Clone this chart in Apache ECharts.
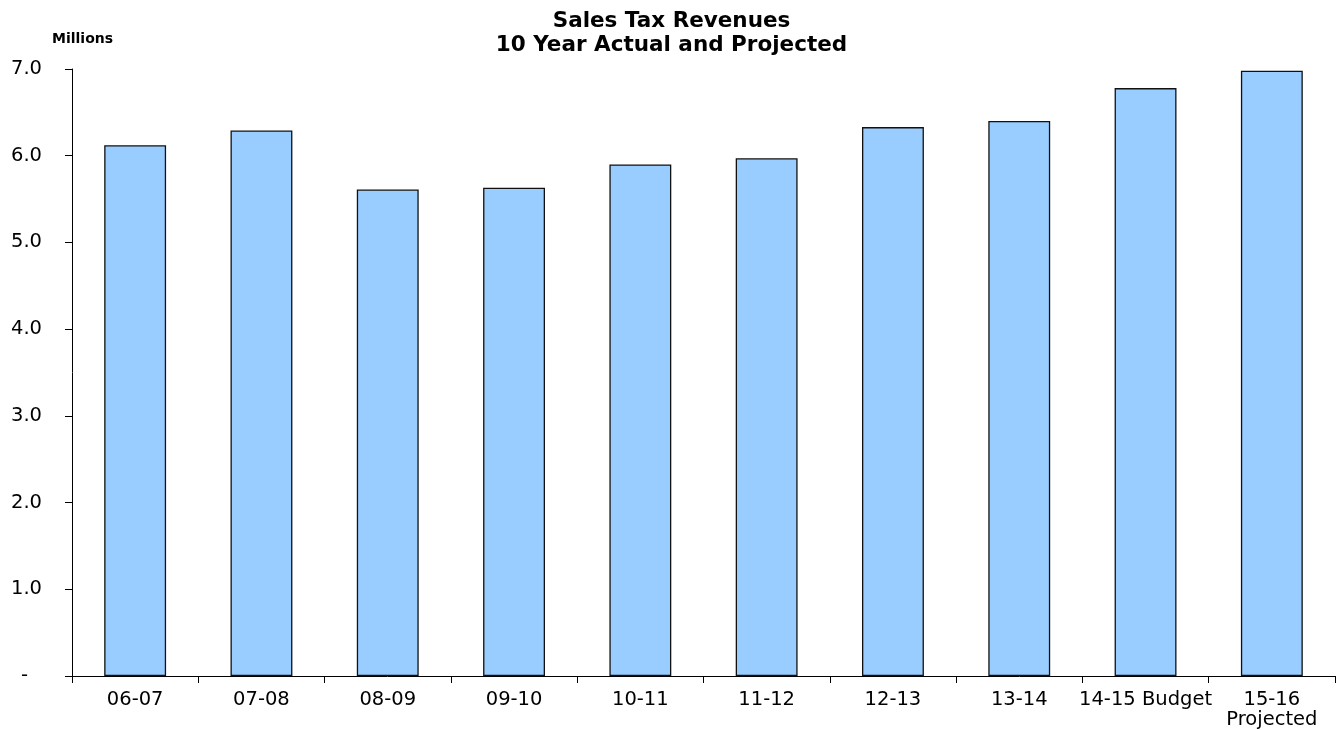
<!DOCTYPE html>
<html>
<head>
<meta charset="utf-8">
<style>
  html, body { margin: 0; padding: 0; background: #fff; }
  #chart { width: 1343px; height: 730px; }
</style>
<script src="https://cdn.jsdelivr.net/npm/echarts@6/dist/echarts.min.js"></script>
</head>
<body>
<div id="chart"></div>
<script>
// Fiscal years shown on the category axis
const categories = ['06-07', '07-08', '08-09', '09-10', '10-11', '11-12', '12-13', '13-14', '14-15 Budget', '15-16\nProjected'];
// Sales tax revenue per year, in millions
const revenues = [6.12, 6.29, 5.61, 5.63, 5.90, 5.97, 6.33, 6.40, 6.78, 6.98];
// Value axis ticks
const yTicks = [0, 1, 2, 3, 4, 5, 6, 7];

const FONT = '"DejaVu Sans", Verdana, sans-serif';
const LABEL_SIZE = 19.5;

const chart = echarts.init(document.getElementById('chart'), null, { renderer: 'canvas' });

chart.setOption({
  backgroundColor: '#ffffff',
  animation: false,
  title: [{
    text: 'Sales Tax Revenues\n10 Year Actual and Projected',
    left: 'center',
    top: 5,
    textStyle: { fontFamily: FONT, fontWeight: 'bold', fontSize: 21.5, lineHeight: 23.5, color: '#000' }
  }, {
    text: 'Millions',
    left: 47,
    top: 27,
    textStyle: { fontFamily: FONT, fontWeight: 'bold', fontSize: 14, color: '#000' }
  }],
  grid: { left: 72, right: 8, top: 69, bottom: 54, containLabel: false, outerBoundsMode: 'none' },
  xAxis: {
    type: 'category',
    data: categories,
    boundaryGap: true,
    axisLine: { lineStyle: { color: '#000', width: 1 } },
    axisTick: { show: true, length: 7, lineStyle: { color: '#000' } },
    axisLabel: { fontFamily: FONT, fontSize: LABEL_SIZE, color: '#000', margin: 14, lineHeight: 20, interval: 0 },
    splitLine: { show: false }
  },
  yAxis: {
    type: 'value',
    min: yTicks[0],
    max: yTicks[yTicks.length - 1],
    interval: 1,
    axisLine: { show: true, lineStyle: { color: '#000', width: 1 } },
    axisTick: { show: true, length: 7, lineStyle: { color: '#000' } },
    axisLabel: {
      fontFamily: FONT, fontSize: LABEL_SIZE, color: '#000', margin: 30,
      formatter: v => (v === 0 ? '{d|-}' : v.toFixed(1)),
      rich: { d: { fontFamily: FONT, fontSize: LABEL_SIZE, color: '#000', padding: [0, 14, 0, 0] } }
    },
    splitLine: { show: false }
  },
  series: [{
    type: 'bar',
    data: revenues,
    barWidth: '49%',
    itemStyle: { color: '#99CCFF', borderColor: '#111', borderWidth: 1.3 }
  }]
});
</script>
</body>
</html>
